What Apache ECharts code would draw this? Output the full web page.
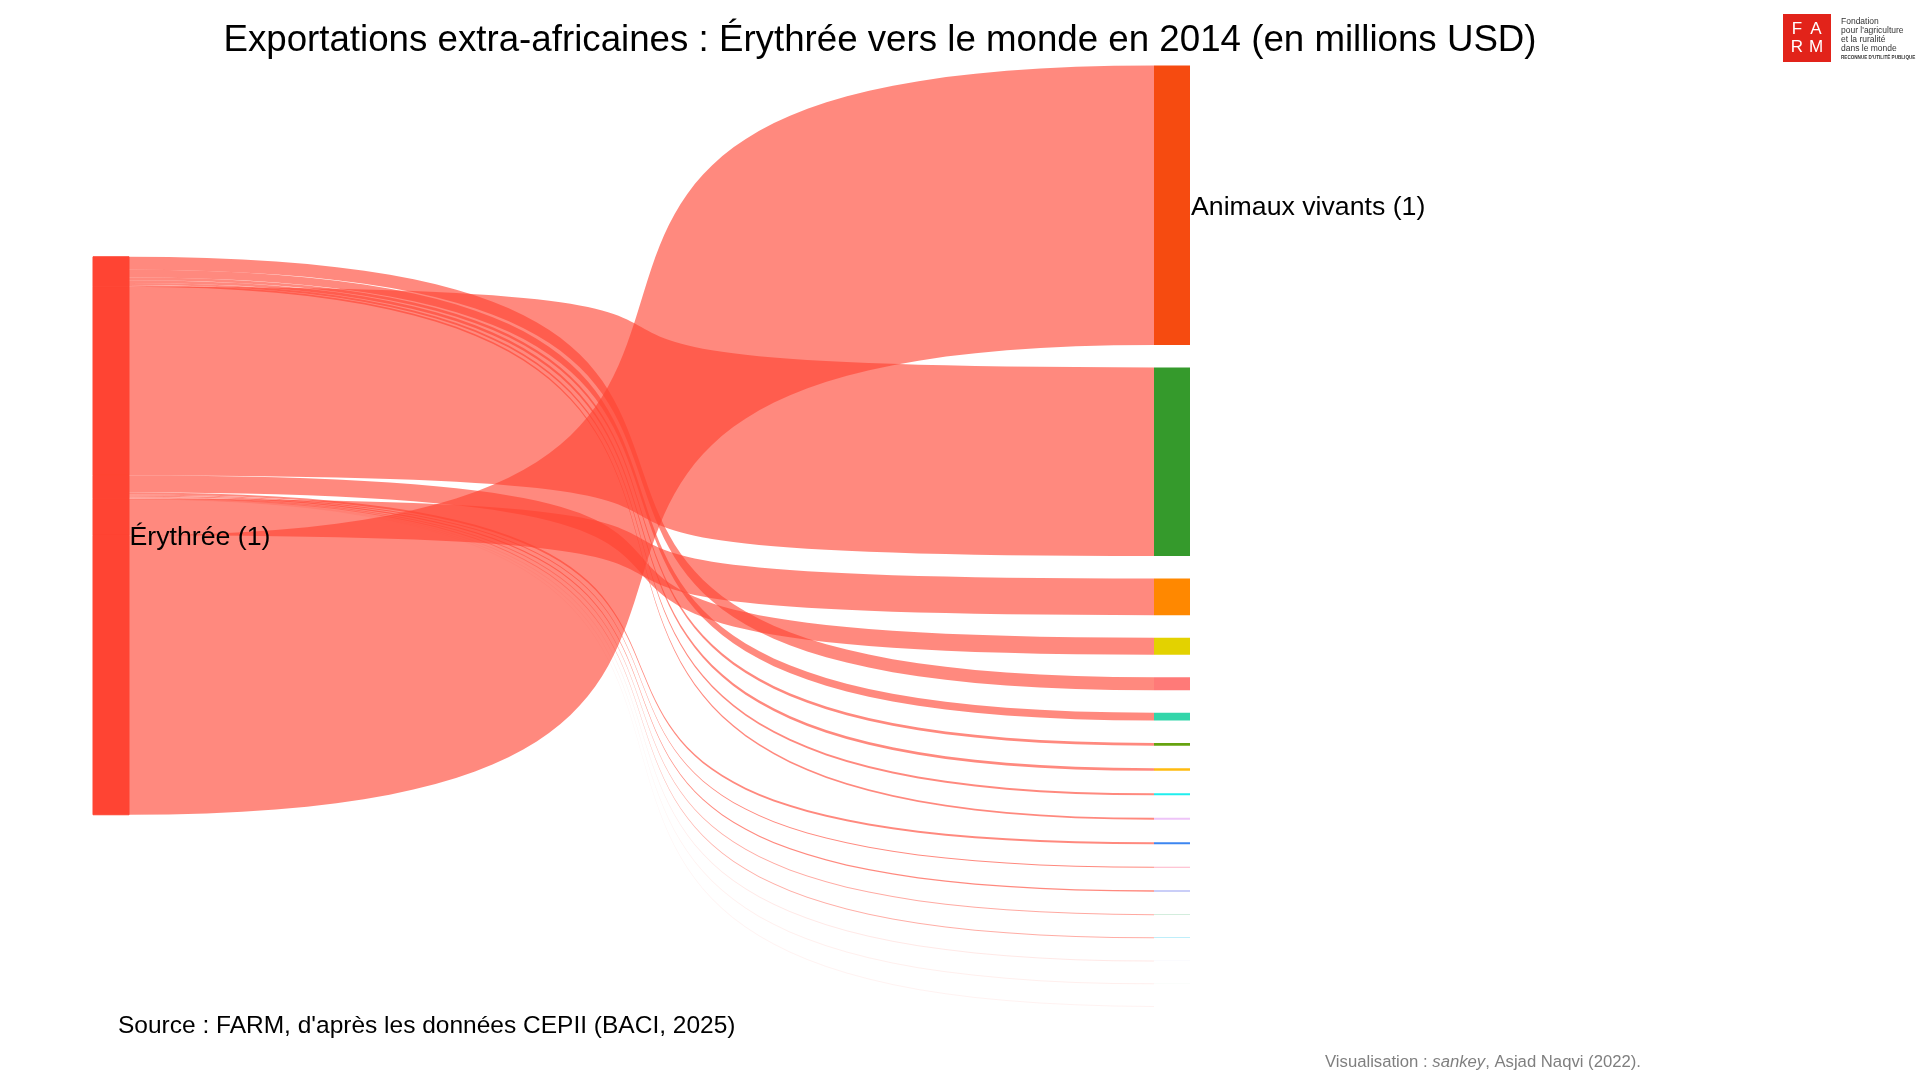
<!DOCTYPE html>
<html>
<head>
<meta charset="utf-8">
<script src="https://cdn.jsdelivr.net/npm/echarts@6/dist/echarts.min.js"></script>
<style>
html,body{margin:0;padding:0;background:#fff;}
#chart{width:1920px;height:1080px;}
</style>
</head>
<body>
<div id="chart"></div>
<script>
// ---------- data ----------
const chartTitle = "Exportations extra-africaines : Érythrée vers le monde en 2014 (en millions USD)";
const sourceNote = "Source : FARM, d'après les données CEPII (BACI, 2025)";
const creditNote = "Visualisation : {i|sankey}, Asjad Naqvi (2022).";
const origin = "Érythrée";
const originLabel = "Érythrée (1)";
const originColor = "#FF4433";

// destination product nodes (top to bottom)
const products = [
  "Animaux vivants", "Graines et fruits oléagineux", "Légumes", "Poissons et crustacés",
  "Fruits", "Café, thé, épices", "Préparations alimentaires", "Céréales",
  "Boissons", "Cuirs et peaux", "Viandes et abats", "Produits de la minoterie",
  "Huiles et graisses", "Sucres", "Tabacs", "Lait et produits laitiers",
  "Gommes et résines", "Plantes vivantes"
];
const productValues = [
  10.0, 6.75, 1.31, 0.61, 0.465, 0.275, 0.105, 0.09,
  0.072, 0.07, 0.072, 0.038, 0.045, 0.026, 0.025, 0.007,
  0.005, 0.004
];
const productColors = [
  "#F64B10", "#359A2C", "#FF8800", "#E3D200", "#FF7A78", "#33D6AA", "#66A30F", "#FFBB10",
  "#20EEEE", "#EEC4F8", "#3C86F0", "#FFB2C6", "#B9BEF6", "#A8DCBC", "#A8E8F8", "#EEEEFA",
  "#EEF6EE", "#FAF2EE"
];
const productLabels = { "Animaux vivants": "Animaux vivants (1)" };

// order in which the flows leave the origin node, top to bottom (indices into products)
const flowGroups = [
  [4, 5, 6, 7, 8, 9],
  [1],
  [3, 10, 11, 12, 13, 14, 15, 16, 17],
  [2],
  [0]
];

// ---------- layout constants ----------
const S_LEFT = 93, S_TOP = 65.5, S_WIDTH = 1097, S_HEIGHT = 940.5;
const NODE_W = 36, NODE_GAP = 22.5;
const LINK_OPACITY = 0.63;
const FONT = "'Liberation Sans', Arial, sans-serif";

// ---------- build sankey data ----------
const total = productValues.reduce((a, b) => a + b, 0);
const ky = (S_HEIGHT - (products.length - 1) * NODE_GAP) / total;
const leftTop = (S_HEIGHT - total * ky) / 2;
const centreY = leftTop + total * ky / 2;

const nodes = [];
const links = [];
let cum = 0;
flowGroups.forEach((grp, k) => {
  const v = grp.reduce((s, i) => s + productValues[i], 0);
  const y = leftTop + cum * ky;
  const name = origin + "#" + k;
  const node = {
    name: name,
    localY: y / S_HEIGHT,
    itemStyle: { color: originColor, borderColor: originColor, borderWidth: 1 },
    label: { show: false }
  };
  const yEnd = y + v * ky;
  if (centreY >= y && centreY < yEnd) {
    node.label = {
      show: true,
      position: [NODE_W + 1, centreY - y + 2.5],
      align: "left",
      verticalAlign: "middle",
      formatter: originLabel
    };
  }
  nodes.push(node);
  grp.forEach(i => {
    links.push({
      source: name,
      target: products[i],
      value: productValues[i],
      lineStyle: { opacity: LINK_OPACITY * Math.min(1, productValues[i] * ky) }
    });
  });
  cum += v;
});
products.forEach((p, i) => {
  const lbl = productLabels[p];
  nodes.push({
    name: p,
    itemStyle: { color: productColors[i], borderWidth: 0 },
    label: lbl ? { show: true, position: "right", distance: 1, offset: [0, 2.5], formatter: lbl } : { show: false }
  });
});

// ---------- chart ----------
const chart = echarts.init(document.getElementById("chart"), null, { renderer: "canvas" });
chart.setOption({
  backgroundColor: "#ffffff",
  animation: false,
  series: [{
    type: "sankey",
    left: S_LEFT, top: S_TOP, width: S_WIDTH, height: S_HEIGHT,
    nodeWidth: NODE_W,
    nodeGap: NODE_GAP,
    layoutIterations: 0,
    nodeAlign: "justify",
    draggable: false,
    silent: true,
    emphasis: { disabled: true },
    itemStyle: { borderWidth: 0 },
    lineStyle: { color: "source", curveness: 0.86, opacity: LINK_OPACITY },
    label: { color: "#000", fontSize: 26.7, fontFamily: FONT },
    data: nodes,
    links: links
  }],
  graphic: [
    { type: "text", x: 880, y: 40.5, style: { text: chartTitle, fontSize: 36.7, fontFamily: FONT, fill: "#000", align: "center", verticalAlign: "middle" } },
    { type: "text", x: 118, y: 1026.5, style: { text: sourceNote, fontSize: 24.5, fontFamily: FONT, fill: "#000", align: "left", verticalAlign: "middle" } },
    { type: "text", x: 1325, y: 1062.5, style: { text: creditNote, fontSize: 16.7, fontFamily: FONT, fill: "#7f7f7f", align: "left", verticalAlign: "middle",
        rich: { i: { fontStyle: "italic", fontSize: 16.7, fontFamily: FONT, fill: "#7f7f7f" } } } },
    // FARM logo
    { type: "rect", shape: { x: 1783, y: 14, width: 48, height: 48 }, style: { fill: "#E2231A" } },
    { type: "text", x: 1797, y: 29, style: { text: "F", fontSize: 17, fontFamily: FONT, fill: "#fff", align: "center", verticalAlign: "middle" } },
    { type: "text", x: 1816, y: 29, style: { text: "A", fontSize: 17, fontFamily: FONT, fill: "#fff", align: "center", verticalAlign: "middle" } },
    { type: "text", x: 1797, y: 47, style: { text: "R", fontSize: 17, fontFamily: FONT, fill: "#fff", align: "center", verticalAlign: "middle" } },
    { type: "text", x: 1816, y: 47, style: { text: "M", fontSize: 17, fontFamily: FONT, fill: "#fff", align: "center", verticalAlign: "middle" } },
    { type: "text", x: 1841, y: 22, style: { text: "Fondation", fontSize: 8.5, fontFamily: FONT, fill: "#333", align: "left", verticalAlign: "middle" } },
    { type: "text", x: 1841, y: 31, style: { text: "pour l'agriculture", fontSize: 8.5, fontFamily: FONT, fill: "#333", align: "left", verticalAlign: "middle" } },
    { type: "text", x: 1841, y: 39.5, style: { text: "et la ruralité", fontSize: 8.5, fontFamily: FONT, fill: "#333", align: "left", verticalAlign: "middle" } },
    { type: "text", x: 1841, y: 48.5, style: { text: "dans le monde", fontSize: 8.5, fontFamily: FONT, fill: "#333", align: "left", verticalAlign: "middle" } },
    { type: "text", x: 1841, y: 57.5, style: { text: "RECONNUE D'UTILITÉ PUBLIQUE", fontSize: 4.6, fontWeight: "bold", fontFamily: FONT, fill: "#333", align: "left", verticalAlign: "middle" } }
  ]
});
</script>
</body>
</html>
